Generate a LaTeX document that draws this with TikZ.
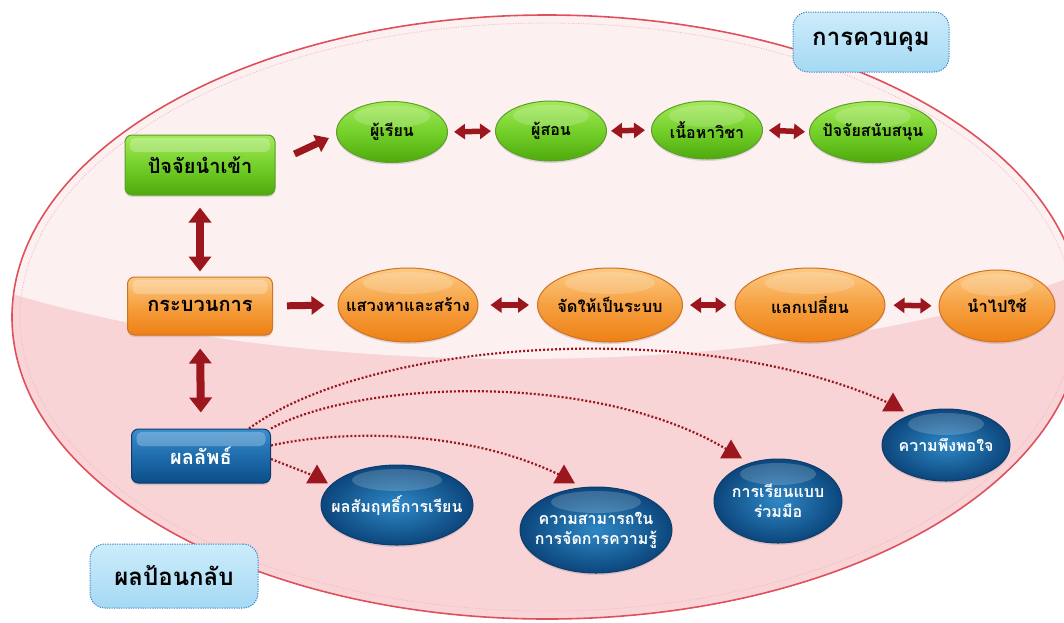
\documentclass[tikz,border=0pt]{standalone}
\usepackage{fontspec}
\newfontfamily\thaifont[Script=Thai]{Loma}
\usetikzlibrary{arrows.meta,shapes.geometric,shadows}
\definecolor{pinkA}{HTML}{FDF0F1}
\definecolor{pinkB}{HTML}{F9D4D7}
\definecolor{ellRed}{HTML}{E0505C}
\definecolor{ellDot}{HTML}{F2B8BE}
\definecolor{arrRed}{HTML}{9B161D}
\definecolor{gTop}{HTML}{A4EA5C}
\definecolor{gMid}{HTML}{74D02A}
\definecolor{gBot}{HTML}{4EAA0C}
\definecolor{gBorder}{HTML}{5E9E2A}
\definecolor{oTop}{HTML}{FCCB86}
\definecolor{oMid}{HTML}{F6A040}
\definecolor{oBot}{HTML}{EE8014}
\definecolor{oBorder}{HTML}{CF7224}
\definecolor{bTop}{HTML}{3B8ED0}
\definecolor{bMid}{HTML}{1E6CAC}
\definecolor{bBot}{HTML}{0B4D89}
\definecolor{bIn}{HTML}{2E88C6}
\definecolor{bOut}{HTML}{0C467C}
\definecolor{bBorder}{HTML}{0B3D6C}
\definecolor{lTop}{HTML}{CDECFB}
\definecolor{lBot}{HTML}{A4D9F3}
\definecolor{lBorder}{HTML}{3F82C2}
\tikzset{
  nodebase/.style={inner sep=0pt, align=center, line width=1pt,
    drop shadow={shadow xshift=0pt, shadow yshift=-2pt, opacity=0.25}},
  glossrect/.style={path picture={\fill[white,opacity=0.25,rounded corners=5pt]
      ([xshift=5pt,yshift=-3pt]path picture bounding box.north west) rectangle
      ([xshift=-5pt,yshift=-17pt]path picture bounding box.north east);}},
  glossell/.style={path picture={\fill[white,opacity=0.18]
      ([yshift=-15pt]path picture bounding box.north) ellipse [x radius=#1, y radius=11];}},
  boxnode/.style={nodebase, rectangle, rounded corners=7pt, glossrect},
  ellnode/.style={nodebase, ellipse, inner xsep=-60pt, inner ysep=-25pt},
  grect/.style={boxnode, draw=gBorder, top color=gTop, bottom color=gBot, middle color=gMid,
    text=black, font=\thaifont\bfseries\fontsize{20pt}{23pt}\selectfont},
  orect/.style={boxnode, draw=oBorder, top color=oTop, bottom color=oBot, middle color=oMid,
    text=black, font=\thaifont\bfseries\fontsize{20pt}{23pt}\selectfont},
  brect/.style={boxnode, draw=bBorder, top color=bTop, bottom color=bBot, middle color=bMid,
    text=white, font=\thaifont\bfseries\fontsize{20pt}{23pt}\selectfont},
  gell/.style={ellnode, draw=gBorder, top color=gTop, bottom color=gBot, middle color=gMid,
    text=black, font=\thaifont\bfseries\fontsize{16pt}{19pt}\selectfont, glossell=38},
  oell/.style={ellnode, draw=oBorder, top color=oTop, bottom color=oBot, middle color=oMid,
    text=black, font=\thaifont\bfseries\fontsize{16.5pt}{19pt}\selectfont, glossell=45},
  bell/.style={ellnode, draw=bBorder, inner color=bIn, outer color=bOut,
    text=white, font=\thaifont\bfseries\fontsize{16pt}{20pt}\selectfont, glossell=45},
  labelbox/.style={rectangle, rounded corners=15pt, top color=lTop, bottom color=lBot,
    draw=lBorder, line width=1pt, dash pattern=on 1.2pt off 1.2pt, inner sep=0pt,
    text=black, font=\thaifont\bfseries\fontsize{24pt}{28pt}\selectfont},
  vdouble/.style={draw=arrRed, line width=8pt,
    {Triangle[width=22pt,length=15pt]}-{Triangle[width=22pt,length=15pt]}},
  hsingle/.style={draw=arrRed, line width=7pt, -{Triangle[width=18pt,length=13pt]}},
  hdouble/.style={draw=arrRed, line width=5.5pt,
    {Triangle[width=15pt,length=11pt]}-{Triangle[width=15pt,length=11pt]}},
  dotarrow/.style={draw=arrRed, line width=2.2pt, dash pattern=on 2pt off 2pt},
  tri/.style={regular polygon, regular polygon sides=3, minimum size=25pt, inner sep=0pt, fill=arrRed}
}
\begin{document}
\begin{tikzpicture}[x=1pt,y=-1pt]
\useasboundingbox[fill=white] (0,0) rectangle (1064,622);
% big ellipse
\fill[pinkB] (547,317) ellipse [x radius=535, y radius=302];
\begin{scope}
  \clip (547,317) ellipse [x radius=535, y radius=302];
  \fill[pinkA] (0,0) -- (0,290) .. controls (300,385) and (800,385) .. (1090,270) -- (1090,0) -- cycle;
\end{scope}
\draw[ellDot, line width=0.8pt, dash pattern=on 1pt off 1.5pt] (547,317) ellipse [x radius=527, y radius=294];
\draw[ellRed, line width=1.6pt] (547,317) ellipse [x radius=535, y radius=302];

% left column
\node[grect, minimum width=150pt, minimum height=60pt] (in) at (200,165) {ปัจจัยนำเข้า};
\node[orect, minimum width=145pt, minimum height=58pt] (proc) at (200,306) {กระบวนการ};
\node[brect, minimum width=139pt, minimum height=54pt] (out) at (201,456) {ผลลัพธ์};

% green row
\node[gell, minimum width=111pt, minimum height=61pt] (g1) at (392,132) {ผู้เรียน};
\node[gell, minimum width=111pt, minimum height=60pt] (g2) at (551,131) {ผู้สอน};
\node[gell, minimum width=111pt, minimum height=58pt] (g3) at (707,130) {เนื้อหาวิชา};
\node[gell, minimum width=127pt, minimum height=61pt] (g4) at (873,132) {ปัจจัยสนับสนุน};

% orange row
\node[oell, minimum width=140pt, minimum height=74pt] (o1) at (408,305) {แสวงหาและสร้าง};
\node[oell, minimum width=145pt, minimum height=74pt] (o2) at (610,305) {จัดให้เป็นระบบ};
\node[oell, minimum width=150pt, minimum height=74pt] (o3) at (810,305) {แลกเปลี่ยน};
\node[oell, minimum width=116pt, minimum height=72pt, glossell=36] (o4) at (997,306) {นำไปใช้};

% blue ellipses
\node[bell, minimum width=152pt, minimum height=80pt] (b1) at (397,505) {ผลสัมฤทธิ์การเรียน};
\node[bell, minimum width=152pt, minimum height=86pt] (b2) at (596,530) {ความสามารถใน\\การจัดการความรู้};
\node[bell, minimum width=128pt, minimum height=84pt, glossell=38] (b3) at (778,501) {การเรียนแบบ\\ร่วมมือ};
\node[bell, minimum width=128pt, minimum height=72pt, glossell=38] (b4) at (946,445) {ความพึงพอใจ};

% block arrows
\draw[vdouble, shorten <=12pt, shorten >=5pt] (in.south) -- (proc.north);
\draw[vdouble, shorten <=13pt, shorten >=16pt] (proc.south) -- (out.north);
\draw[hsingle] ([shift={(19,-11)}]in.east) -- ([shift={(-7,6)}]g1.west);
\draw[hsingle, shorten <=14pt, shorten >=13pt] (proc.east) -- (o1.west);
\draw[hdouble, shorten <=6pt, shorten >=4pt] (g1.east) -- (g2.west);
\draw[hdouble, shorten <=4pt, shorten >=6pt] (g2.east) -- (g3.west);
\draw[hdouble, shorten <=6pt, shorten >=4pt] (g3.east) -- (g4.west);
\draw[hdouble, shorten <=12pt, shorten >=8pt] (o1.east) -- (o2.west);
\draw[hdouble, shorten <=7pt, shorten >=8pt] (o2.east) -- (o3.west);
\draw[hdouble, shorten <=8pt, shorten >=7pt] (o3.east) -- (o4.west);

% dotted feedback connectors
\coordinate (t1) at (317,477);
\coordinate (t2) at (564,477);
\coordinate (t3) at (731,452);
\coordinate (t4) at (893,405);
\draw[dotarrow] ([shift={(-22,0)}]out.north east) .. controls (370,340) and (700,315) .. (t4);
\draw[dotarrow] (out.north east) .. controls (360,380) and (600,370) .. (t3);
\draw[dotarrow] ([shift={(0,17)}]out.north east) .. controls (330,432) and (460,425) .. (t2);
\draw[dotarrow] ([shift={(0,3)}]out.east) -- (t1);
\node[tri] (h1) at (t1) {};
\node[tri] (h2) at (t2) {};
\node[tri] (h3) at (t3) {};
\node[tri] (h4) at (t4) {};

% label boxes
\node[labelbox, minimum width=156pt, minimum height=60pt] (ctrl) at (871,42) {การควบคุม};
\node[labelbox, minimum width=168pt, minimum height=64pt] (fb) at (174,576) {ผลป้อนกลับ};
\end{tikzpicture}
\end{document}
